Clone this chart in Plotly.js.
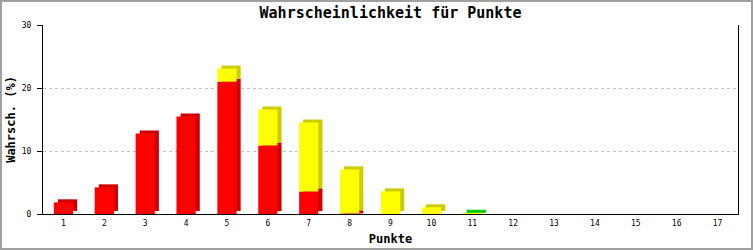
<!DOCTYPE html>
<html>
<head>
<meta charset="utf-8">
<script src="https://cdn.plot.ly/plotly-3.0.1.min.js"></script>
<style>
  html, body { margin: 0; padding: 0; background: #fff; }
  #wrap { position: relative; width: 753px; height: 250px; }
  #chart { width: 753px; height: 250px; }
  #frame { position: absolute; left: 0; top: 0; width: 753px; height: 250px; box-sizing: border-box; border: 2px solid #a0a0a0; pointer-events: none; }
</style>
</head>
<body>
<div id="wrap"><div id="chart"></div><div id="frame"></div></div>
<script>
// Data
const categories = [1, 2, 3, 4, 5, 6, 7, 8, 9, 10, 11, 12, 13, 14, 15, 16, 17];
const tickLabels = ["1","2","3","4","5","6","7","8","9","10","11","12","13","14","15","16","17"];
const redValues    = [1.85, 4.23, 12.78, 15.48, 21.0, 10.88, 3.59, 0.1, 0, 0, 0, 0, 0, 0, 0, 0, 0];
const yellowValues = [0, 0, 0, 0, 2.08, 5.71, 10.94, 6.98, 3.59, 1.06, 0.15, 0, 0, 0, 0, 0, 0];
const greenValues  = [0, 0, 0, 0, 0, 0, 0, 0, 0, 0, 0.05, 0, 0, 0, 0, 0, 0];

const seriesList = [
  { values: redValues,    front: "#ff0000", side: "#cc0000" },
  { values: yellowValues, front: "#ffff00", side: "#cccc00" },
  { values: greenValues,  front: "#00ff00", side: "#00cc00" }
];

const barW = 0.47;   // bar width in category units
const depthX = 0.1;  // 3D depth (x, category units)
const depthY = 0.48; // 3D depth (y, value units)

const traces = [];
const cum = categories.map(() => 0);
seriesList.forEach(s => {
  const base = cum.slice();
  const xs = [], sideBase = [], sideH = [], frontBase = [], frontH = [];
  categories.forEach((c, i) => {
    const v = s.values[i];
    if (v > 0) {
      xs.push(c);
      frontBase.push(base[i]);
      frontH.push(v);
      const lo = base[i] + Math.min(depthY, v);
      sideBase.push(lo);
      sideH.push(base[i] + v + depthY - lo);
    }
    cum[i] += v;
  });
  traces.push({
    type: "bar", x: xs, y: sideH, base: sideBase,
    width: barW, offset: -barW / 2 + depthX,
    marker: { color: s.side, line: { width: 0 } },
    hoverinfo: "skip", showlegend: false
  });
  traces.push({
    type: "bar", x: xs, y: frontH, base: frontBase,
    width: barW, offset: -barW / 2,
    marker: { color: s.front, line: { width: 0 } },
    hoverinfo: "skip", showlegend: false
  });
});

const mono = "DejaVu Sans Mono, Liberation Mono, monospace";
const layout = {
  width: 753, height: 250,
  margin: { l: 43, r: 15, t: 25, b: 36, pad: 0 },
  paper_bgcolor: "#ffffff", plot_bgcolor: "#ffffff",
  barmode: "overlay",
  showlegend: false,
  title: {
    text: "<b>Wahrscheinlichkeit für Punkte</b>",
    font: { family: mono, size: 15, color: "#000" },
    x: 0.5, xanchor: "center", xref: "paper",
    y: 1 - 13 / 250, yanchor: "middle", yref: "container"
  },
  xaxis: {
    range: [0.5, 17.5],
    tickmode: "array", tickvals: categories, ticktext: tickLabels,
    ticks: "", showgrid: false, zeroline: false,
    showline: true, linecolor: "#000", linewidth: 1,
    tickfont: { family: mono, size: 8, color: "#000" },
    ticklabelstandoff: 1,
    title: { text: "<b>Punkte</b>", font: { family: mono, size: 12, color: "#000" }, standoff: 8 },
    fixedrange: true
  },
  yaxis: {
    range: [0, 30],
    tickvals: [0, 10, 20, 30],
    ticks: "outside", ticklen: 5, tickcolor: "#000", tickwidth: 1,
    showline: true, linecolor: "#000", linewidth: 1, mirror: true,
    showgrid: true, gridcolor: "#c0c0c0", griddash: "dot", gridwidth: 1,
    zeroline: false,
    tickfont: { family: mono, size: 8, color: "#000" },
    ticklabelstandoff: 4,
    title: { text: "<b>Wahrsch. (%)</b>", font: { family: mono, size: 12, color: "#000" }, standoff: 3 },
    fixedrange: true
  }
};

Plotly.newPlot("chart", traces, layout, { staticPlot: true, displayModeBar: false });
</script>
</body>
</html>
